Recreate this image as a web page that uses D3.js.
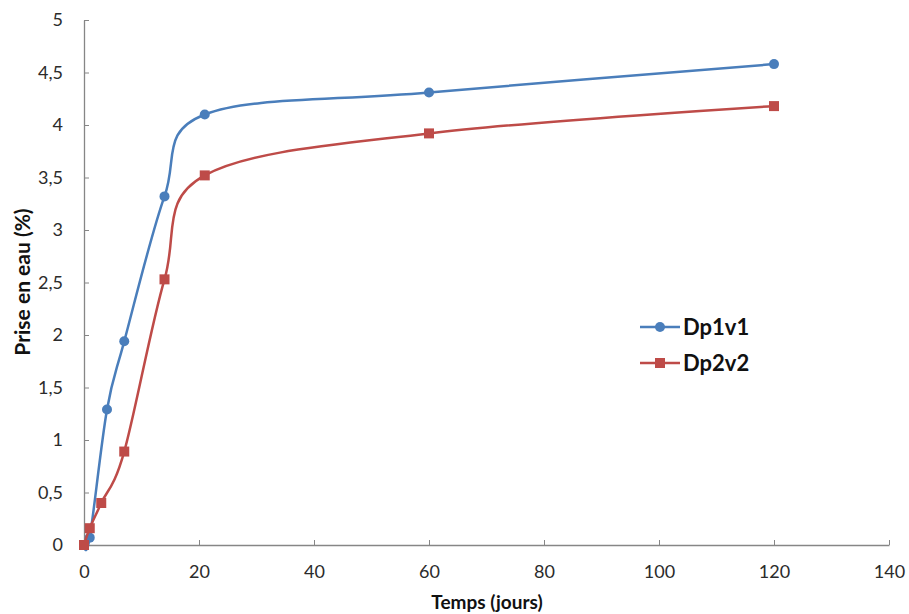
<!DOCTYPE html>
<html><head><meta charset="utf-8">
<script src="https://cdn.jsdelivr.net/npm/d3@7"></script>
<style>body{margin:0;background:#fff}svg{display:block}</style>
</head><body>
<svg id="c" width="909" height="614"></svg>
<script>
const days1 = [0, 1, 4, 7, 14, 21, 60, 120];
const dp1v1 = [0, 0.07, 1.29, 1.94, 3.32, 4.10, 4.31, 4.58];
const days2 = [0, 1, 3, 7, 14, 21, 60, 120];
const dp2v2 = [0, 0.16, 0.40, 0.89, 2.53, 3.52, 3.92, 4.18];
const xTicks = [0, 20, 40, 60, 80, 100, 120, 140];
const yTicks = [0, 0.5, 1, 1.5, 2, 2.5, 3, 3.5, 4, 4.5, 5];
const seriesNames = ["Dp1v1", "Dp2v2"];
const colors = ["#4A7EBB", "#BE4B48"];

const svg = d3.select("#c");
const x = d3.scaleLinear().domain([0, 140]).range([84, 889]);
const y = d3.scaleLinear().domain([0, 5]).range([545, 20]);
const font = "Lato,'Open Sans',Arial,sans-serif";
const fmt = d => String(d).replace(".", ",");

// axes
const xAxis = svg.append("g").attr("transform", "translate(0,545)")
  .call(d3.axisBottom(x).tickValues(xTicks).tickSizeInner(-5).tickSizeOuter(0).tickPadding(20).tickFormat(d => d));
const yAxis = svg.append("g").attr("transform", "translate(84,0)")
  .call(d3.axisLeft(y).tickValues(yTicks).tickSizeInner(-5).tickSizeOuter(0).tickPadding(21).tickFormat(fmt));
[xAxis, yAxis].forEach(a => {
  a.selectAll("path").attr("stroke", "#868686").attr("stroke-width", 1.3);
  a.selectAll("line").attr("stroke", "#868686").attr("stroke-width", 1);
  a.selectAll("text").attr("fill", "#2b2b2b").style("font-family", font).style("font-size", "18px");
});

// axis titles
svg.append("text").attr("x", 487).attr("y", 609).attr("text-anchor", "middle")
  .style("font-family", font).style("font-size", "19px").style("font-weight", "bold").attr("fill", "#111")
  .text("Temps (jours)");
svg.append("text").attr("transform", "translate(30,282) rotate(-90)").attr("text-anchor", "middle")
  .style("font-family", font).style("font-size", "21px").style("font-weight", "bold").attr("fill", "#111")
  .text("Prise en eau (%)");

const line = d3.line().x(d => x(d[0])).y(d => y(d[1])).curve(d3.curveCardinal.tension(0));
const s1 = days1.map((d, i) => [d, dp1v1[i]]);
const s2 = days2.map((d, i) => [d, dp2v2[i]]);

svg.append("path").datum(s1).attr("d", line).attr("fill", "none").attr("stroke", colors[0]).attr("stroke-width", 2.5);
svg.selectAll(".ci").data(s1).enter().append("circle")
  .attr("cx", d => x(d[0])).attr("cy", d => y(d[1])).attr("r", 5).attr("fill", colors[0]);
svg.append("path").datum(s2).attr("d", line).attr("fill", "none").attr("stroke", colors[1]).attr("stroke-width", 2.5);
svg.selectAll(".sq").data(s2).enter().append("rect")
  .attr("x", d => x(d[0]) - 5).attr("y", d => y(d[1]) - 5).attr("width", 10).attr("height", 10)
  .attr("fill", colors[1]);

// legend
const lg = svg.append("g");
seriesNames.forEach((n, i) => {
  const yy = 327 + i * 36;
  lg.append("line").attr("x1", 640).attr("x2", 680).attr("y1", yy).attr("y2", yy)
    .attr("stroke", colors[i]).attr("stroke-width", 2.5);
  if (i === 0) lg.append("circle").attr("cx", 660).attr("cy", yy).attr("r", 5).attr("fill", colors[i]);
  else lg.append("rect").attr("x", 655).attr("y", yy - 5).attr("width", 10).attr("height", 10).attr("fill", colors[i]);
  lg.append("text").attr("x", 683).attr("y", yy + 8).style("font-family", font).style("font-size", "22px")
    .style("font-weight", "bold").attr("fill", "#111").text(n);
});
</script>
</body></html>
